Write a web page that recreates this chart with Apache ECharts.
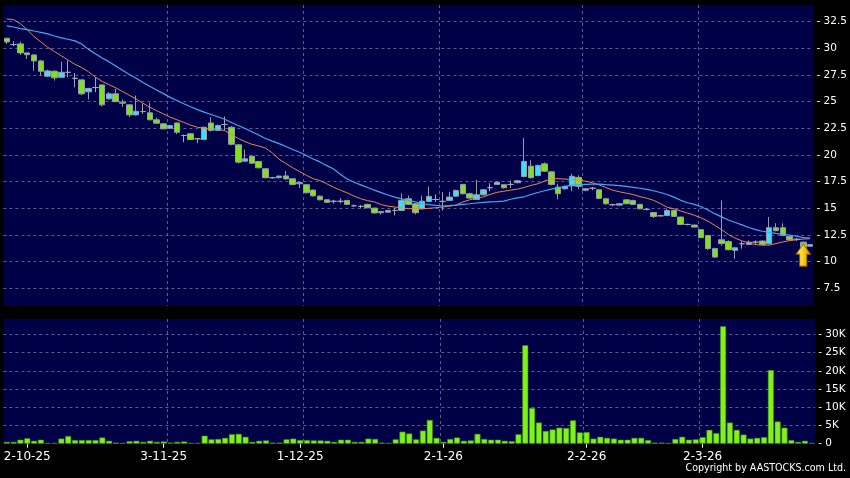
<!DOCTYPE html>
<html>
<head>
<meta charset="utf-8">
<script src="https://cdn.jsdelivr.net/npm/echarts@6.0.0/dist/echarts.min.js"></script>
<style>
html,body{margin:0;padding:0;background:#000;}
#c{width:850px;height:478px;}
</style>
</head>
<body>
<div id="c"></div>
<script>
// ---- data ----
const dates = [
'26-9-25','29-9-25','30-9-25',
'2-10-25','3-10-25','6-10-25','8-10-25','9-10-25','10-10-25','13-10-25','14-10-25','15-10-25','16-10-25','17-10-25','20-10-25','21-10-25','22-10-25','23-10-25','24-10-25','27-10-25','28-10-25','30-10-25','31-10-25',
'3-11-25','4-11-25','5-11-25','6-11-25','7-11-25','10-11-25','11-11-25','12-11-25','13-11-25','14-11-25','17-11-25','18-11-25','19-11-25','20-11-25','21-11-25','24-11-25','25-11-25','26-11-25','27-11-25','28-11-25',
'1-12-25','2-12-25','3-12-25','4-12-25','5-12-25','8-12-25','9-12-25','10-12-25','11-12-25','12-12-25','15-12-25','16-12-25','17-12-25','18-12-25','19-12-25','22-12-25','23-12-25','24-12-25','29-12-25','30-12-25','31-12-25',
'2-1-26','5-1-26','6-1-26','7-1-26','8-1-26','9-1-26','12-1-26','13-1-26','14-1-26','15-1-26','16-1-26','19-1-26','20-1-26','21-1-26','22-1-26','23-1-26','26-1-26','27-1-26','28-1-26','29-1-26','30-1-26',
'2-2-26','3-2-26','4-2-26','5-2-26','6-2-26','9-2-26','10-2-26','11-2-26','12-2-26','13-2-26','16-2-26','20-2-26','23-2-26','24-2-26','25-2-26','26-2-26','27-2-26',
'2-3-26','3-3-26','4-3-26','5-3-26','6-3-26','9-3-26','10-3-26','11-3-26','12-3-26','13-3-26','16-3-26','17-3-26','18-3-26','19-3-26','20-3-26','23-3-26','24-3-26'
];

const tickLabels = ['2-10-25','3-11-25','1-12-25','2-1-26','2-2-26','2-3-26'];
const gridLineDates = ['3-10-25','4-11-25','2-12-25','2-1-26','2-2-26','2-3-26'];

const openP = [
30.94,30.35,30.41,29.57,29.38,28.82,27.38,27.85,27.28,27.75,
27.19,27.04,25.92,26.32,26.57,25.26,25.73,24.95,24.70,23.76,
24.07,23.95,23.30,22.92,22.50,23.00,21.83,21.99,21.52,21.45,
23.00,22.30,22.86,22.60,20.95,19.42,19.89,19.39,18.71,17.87,
17.87,18.04,17.77,17.42,17.21,16.71,16.14,15.80,15.66,15.66,
15.74,15.24,15.18,15.37,15.02,14.71,14.64,14.80,14.80,15.90,
15.43,14.96,15.65,15.83,15.65,15.74,16.14,17.24,16.37,15.83,
16.27,16.93,17.24,17.21,17.24,17.40,17.99,18.95,18.08,19.17,
18.42,16.99,16.83,17.10,17.90,16.70,16.88,16.74,15.90,15.34,
15.30,15.80,15.74,15.37,14.90,14.61,14.30,14.33,14.80,14.18,
13.49,13.43,13.00,12.45,11.22,12.05,11.88,11.06,11.68,11.62,
11.83,11.93,11.68,13.18,13.18,12.37,12.10,11.83,11.45
];
const closeP = [
30.60,30.35,29.57,29.40,28.82,27.85,27.88,27.23,27.75,27.75,
27.19,25.73,26.23,26.32,24.70,25.73,25.00,24.85,23.76,24.10,
24.07,23.30,22.98,22.45,22.76,22.13,21.83,21.45,21.52,22.60,
22.30,22.76,22.86,21.00,19.33,19.64,19.23,18.80,17.87,17.87,
18.02,17.76,17.24,17.30,16.46,16.17,15.80,15.56,15.66,15.66,
15.37,15.24,15.18,15.06,14.57,14.59,14.80,14.80,15.74,15.37,
14.59,15.67,16.11,15.83,15.65,16.05,16.68,16.37,15.96,16.27,
16.74,16.93,17.45,16.93,17.24,17.58,19.39,17.87,19.02,18.48,
17.24,16.37,17.05,18.00,17.06,16.83,16.88,15.93,15.43,15.34,
15.43,15.43,15.37,14.96,14.90,14.24,14.30,14.80,14.24,13.49,
13.49,13.24,12.25,11.22,10.43,11.70,11.12,11.30,11.68,11.83,
11.83,11.62,13.18,12.90,12.46,12.06,12.10,11.35,11.60
];
const lowP = [
30.40,30.20,29.38,29.00,27.90,27.44,27.30,26.98,27.20,27.30,
26.35,25.60,25.20,25.88,24.55,25.20,24.95,24.50,23.55,23.70,
23.86,23.25,22.90,22.40,22.45,21.95,21.20,21.40,21.10,21.40,
22.20,22.25,22.30,20.90,19.20,19.35,19.15,18.75,17.80,17.80,
17.80,17.70,17.15,16.90,16.40,16.10,15.75,15.50,15.45,15.45,
15.30,15.15,15.00,15.00,14.50,14.40,14.60,14.33,14.75,15.30,
14.43,14.90,15.60,15.60,14.80,15.70,16.10,16.30,15.90,15.78,
16.20,16.60,17.20,16.85,16.90,17.35,17.90,17.80,18.00,18.40,
17.15,15.85,16.75,16.60,16.80,16.60,16.70,15.85,15.35,15.20,
15.25,15.40,15.30,14.90,14.80,14.10,14.25,14.30,14.20,13.45,
13.40,13.20,12.20,11.10,10.35,11.50,11.05,10.28,11.22,11.55,
11.65,11.50,11.60,12.85,12.40,12.00,11.95,11.30,11.40
];
const highP = [
31.00,30.66,30.63,29.60,29.45,28.90,28.00,27.95,28.75,28.85,
27.70,27.10,26.30,27.30,26.60,25.90,26.20,25.20,24.75,25.57,
24.80,24.89,23.50,23.00,22.82,23.05,21.90,22.05,21.60,22.65,
23.54,22.85,23.60,22.70,21.00,20.50,19.95,19.45,18.75,17.95,
18.08,18.50,17.80,17.45,17.25,16.75,16.20,15.85,15.80,15.95,
15.80,15.35,15.30,15.42,15.05,14.75,14.85,15.06,16.40,16.20,
15.50,16.20,17.05,16.30,16.52,16.52,16.75,17.30,16.42,17.68,
16.80,17.35,17.50,17.25,17.60,17.65,21.60,19.50,19.10,19.30,
18.50,17.30,17.15,18.24,18.10,16.90,17.00,16.80,15.95,15.42,
15.50,15.85,15.80,15.42,15.00,14.65,14.38,14.95,14.85,14.22,
13.55,13.48,13.05,12.50,11.30,15.74,12.00,11.35,11.90,12.00,
12.00,12.00,14.18,13.60,13.60,12.42,12.20,11.90,11.65
];
// volume in thousands of shares
const volumeK = [
0.5,0.5,1.1,1.5,0.8,1.1,0.2,0.2,1.4,2.1,
1.0,1.0,1.0,1.0,1.7,0.8,0.3,0.2,0.7,0.8,
0.5,0.8,0.5,0.6,0.3,0.5,0.6,0.2,0.2,2.2,
1.2,1.3,1.6,2.6,2.7,1.9,0.5,0.8,0.9,0.3,
0.3,1.2,1.4,1.0,1.0,0.9,0.9,0.8,0.5,1.1,
1.1,0.5,0.5,1.4,1.3,0.3,0.2,1.2,3.3,2.8,
1.2,3.6,6.5,1.6,0.5,1.3,1.7,0.8,0.9,2.7,
1.3,1.1,1.1,0.8,0.7,2.6,27.0,9.8,5.8,3.5,
3.9,4.4,4.3,6.4,3.1,3.2,1.4,1.9,1.6,1.4,
1.1,1.1,1.6,1.6,1.0,0.3,0.3,0.2,1.3,1.9,
1.1,1.2,1.8,3.8,2.9,32.2,5.8,3.8,2.5,1.4,
1.6,1.8,20.2,6.1,4.4,1.0,0.5,0.8,0.2
];
const maShort = [
32.75,32.70,32.30,31.75,31.10,30.60,30.10,29.70,29.30,28.90,
28.50,28.20,27.80,27.30,26.90,26.60,26.30,25.95,25.60,25.25,
24.85,24.48,24.15,23.85,23.55,23.30,23.05,22.80,22.60,22.50,
22.42,22.38,22.30,21.90,21.55,21.25,21.00,20.85,20.65,20.20,
19.60,19.20,18.80,18.45,18.10,17.77,17.60,17.30,16.98,16.70,
16.45,16.15,15.90,15.72,15.60,15.35,15.20,15.12,15.05,14.98,
14.95,14.96,15.00,15.06,15.12,15.20,15.30,15.60,15.80,15.95,
16.08,16.30,16.50,16.60,16.70,16.80,16.95,17.15,17.30,17.55,
17.77,17.78,17.74,17.70,17.62,17.55,17.40,17.20,16.95,16.70,
16.55,16.42,16.30,16.10,15.95,15.75,15.45,15.10,14.95,14.75,
14.55,14.35,14.10,13.80,13.40,13.00,12.55,12.20,11.95,11.75,
11.60,11.55,11.55,11.70,11.85,11.98,12.05,12.12,12.15
];
const maLong = [
32.10,32.00,31.85,31.75,31.62,31.50,31.35,31.15,30.98,30.85,
30.70,30.40,29.90,29.50,29.10,28.75,28.35,27.95,27.55,27.20,
26.80,26.45,26.10,25.75,25.40,25.10,24.80,24.52,24.25,24.02,
23.80,23.58,23.35,23.05,22.77,22.48,22.18,21.88,21.55,21.30,
21.06,20.80,20.52,20.26,19.95,19.63,19.35,19.00,18.68,18.20,
17.75,17.45,17.20,16.95,16.70,16.47,16.25,16.05,15.88,15.75,
15.60,15.45,15.35,15.27,15.22,15.25,15.30,15.37,15.43,15.50,
15.55,15.60,15.63,15.68,15.85,15.98,16.08,16.30,16.48,16.65,
16.80,16.93,17.05,17.18,17.23,17.25,17.27,17.27,17.22,17.18,
17.13,17.05,16.97,16.88,16.78,16.65,16.48,16.30,16.05,15.75,
15.52,15.37,15.15,14.85,14.50,14.20,13.90,13.67,13.45,13.20,
13.00,12.85,12.75,12.65,12.57,12.48,12.38,12.25,12.20
];
const arrowDate = '23-3-26';
const arrowValue = 10.62;
const copyrightText = 'Copyright by AASTOCKS.com Ltd.';

// ---- chart ----
const navy = '#000046';
const gridLineColor = '#5c5c94';
const font = 'DejaVu Sans';
const labelIdx = new Set(tickLabels.map(t => dates.indexOf(t)));
const gridIdx = new Set(gridLineDates.map(t => dates.indexOf(t)));
const candles = dates.map((d, i) => [openP[i], closeP[i], lowP[i], highP[i]]);

const splitLineCfg = {
  show: true,
  showMinLine: false,
  showMaxLine: false,
  lineStyle: { color: gridLineColor, width: 1, type: [3, 3] }
};

const chart = echarts.init(document.getElementById('c'), null, { renderer: 'canvas', width: 850, height: 478 });
chart.setOption({
  animation: false,
  backgroundColor: '#000',
  grid: [
    { left: 3.4, top: 5, width: 811.8, height: 310, show: true, backgroundColor: navy, borderWidth: 0 },
    { left: 3.4, top: 319, width: 811.8, height: 124.7, show: true, backgroundColor: navy, borderWidth: 0 }
  ],
  xAxis: [
    {
      type: 'category', gridIndex: 0, data: dates, boundaryGap: true,
      axisLine: { show: false }, axisTick: { show: false }, axisLabel: { show: false },
      splitLine: Object.assign({ interval: (i) => gridIdx.has(i) }, splitLineCfg)
    },
    {
      type: 'category', gridIndex: 1, data: dates, boundaryGap: true,
      axisLine: { show: false },
      axisTick: { show: true, alignWithLabel: true, interval: (i) => labelIdx.has(i), length: 4, lineStyle: { color: '#ffffff', width: 1 } },
      axisLabel: { show: true, interval: (i) => labelIdx.has(i), color: '#ffffff', fontFamily: font, fontSize: 12, margin: 7 },
      splitLine: Object.assign({ interval: (i) => gridIdx.has(i) }, splitLineCfg)
    }
  ],
  yAxis: [
    {
      type: 'value', gridIndex: 0, position: 'right', min: 5, max: 34.06, interval: 2.5, scale: false,
      axisLine: { show: false }, axisTick: { show: false },
      axisLabel: { color: '#ffffff', fontFamily: font, fontSize: 10.5, margin: 3, showMinLabel: false, showMaxLabel: false,
        formatter: (v) => '- ' + v },
      splitLine: splitLineCfg
    },
    {
      type: 'value', gridIndex: 1, position: 'right', min: 0, max: 34.2, interval: 5,
      axisLine: { show: false }, axisTick: { show: false },
      axisLabel: { color: '#ffffff', fontFamily: font, fontSize: 10.5, margin: 3, showMaxLabel: false,
        formatter: (v) => v === 0 ? '- 0' : '- ' + v + 'K' },
      splitLine: splitLineCfg
    }
  ],
  series: [
    {
      type: 'candlestick', xAxisIndex: 0, yAxisIndex: 0, data: candles, barWidth: 6,
      itemStyle: {
        color: '#3ae2f0', color0: '#7ee21c',
        borderColor: '#9a9aae', borderColor0: '#9a9aae', borderColorDoji: '#a6a6b8', borderWidth: 1
      },
      markPoint: {
        symbol: 'path://M7,0 L14,10 L10.5,10 L10.5,22 L3.5,22 L3.5,10 L0,10 Z',
        symbolSize: [14, 22],
        label: { show: false },
        itemStyle: {
          color: new echarts.graphic.LinearGradient(0, 0, 1, 0, [
            { offset: 0, color: '#fff4a8' }, { offset: 0.45, color: '#ffd21e' }, { offset: 1, color: '#d89400' }
          ]),
          borderColor: '#a87000', borderWidth: 1
        },
        data: [{ coord: [arrowDate, arrowValue] }]
      },
      z: 2
    },
    {
      type: 'line', xAxisIndex: 0, yAxisIndex: 0, data: maShort, symbol: 'none', smooth: false,
      lineStyle: { color: '#e38a58', width: 1 }, z: 3
    },
    {
      type: 'line', xAxisIndex: 0, yAxisIndex: 0, data: maLong, symbol: 'none', smooth: false,
      lineStyle: { color: '#45a8f2', width: 1.2 }, z: 3
    },
    {
      type: 'bar', xAxisIndex: 1, yAxisIndex: 1, data: volumeK, barWidth: 6,
      itemStyle: { color: '#7ff21c', borderColor: '#3f8a12', borderWidth: 0.6 }
    }
  ],
  graphic: [
    { type: 'rect', z: 10, silent: true, shape: { x: 0, y: 305.7, width: 850, height: 13.3 }, style: { fill: '#000000' } },
    { type: 'text', z: 10, right: 4, top: 463, style: { text: copyrightText, fill: '#ffffff', font: "10.6px 'DejaVu Sans Condensed', 'DejaVu Sans'" } }
  ]
});
</script>
</body>
</html>
